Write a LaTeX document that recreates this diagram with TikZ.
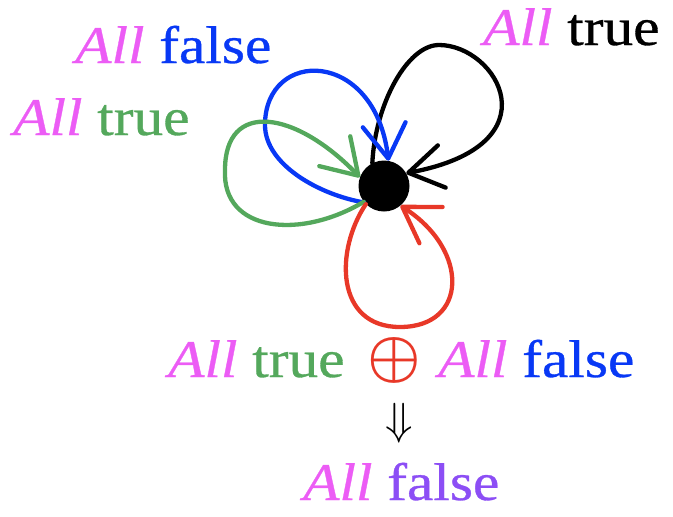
\RequirePackage{fix-cm}
\documentclass[tikz,border=0pt]{standalone}
\usepackage{bm}
\usepackage{fontspec}
\setmainfont[FakeStretch=1.12,FakeBold=0.6]{Liberation Serif}
\usetikzlibrary{arrows.meta}
\definecolor{mag}{RGB}{236,92,245}
\definecolor{blu}{RGB}{8,56,245}
\definecolor{grn}{RGB}{84,168,92}
\definecolor{rd}{RGB}{232,56,40}
\definecolor{pur}{RGB}{140,78,245}
\begin{document}
\begin{tikzpicture}[x=1pt,y=-1pt,
  loopline/.style={line width=4.3pt, line cap=round,
    -{Straight Barb[length=34pt,width=43pt,round]}},
  lbl/.style={anchor=base west, inner sep=0pt, font=\fontsize{53}{60}\selectfont},
  dotnode/.style={circle, fill=black, inner sep=0pt, minimum size=51pt}]
\useasboundingbox (0,0) rectangle (673,517);
\node[dotnode] (v) at (384,186) {};
% loops
\draw[loopline, black] (v.117) .. controls (375,105) and (407,45) .. (439,45)
  .. controls (497,45) and (557,145) .. (v.30);
\draw[loopline, blu] (v.220) .. controls (320,195) and (265,165) .. (265,125)
  .. controls (265,48) and (375,48) .. (v.80);
\draw[loopline, grn] (v.218) .. controls (300,240) and (222,232) .. (225,170)
  .. controls (225,100) and (295,110) .. (v.160);
\draw[loopline, rd] (v.225) .. controls (335,250) and (335,327) .. (400,327)
  .. controls (468,327) and (470,250) .. (v.310);
% labels
\node[lbl] (tl) at (75,63) {\textcolor{mag}{\itshape All} \textcolor{blu}{false}};
\node[lbl] (tr) at (483,45) {\textcolor{mag}{\itshape All} \textcolor{black}{true}};
\node[lbl] (gl) at (13,135) {\textcolor{mag}{\itshape All} \textcolor{grn}{true}};
\node[lbl] (m1) at (168,377) {\textcolor{mag}{\itshape All} \textcolor{grn}{true}};
\node[inner sep=0pt, text=rd, font=\fontsize{60}{64}\selectfont] (op) at (394,360) {$\bm{\oplus}$};
\node[lbl] (m2) at (438,377) {\textcolor{mag}{\itshape All} \textcolor{blu}{false}};
\node[inner sep=0pt, font=\fontsize{45}{50}\selectfont] (imp) at (399,423) {$\Downarrow$};
\node[lbl] (bt) at (303,500) {\textcolor{mag}{\itshape All} \textcolor{pur}{false}};
\end{tikzpicture}
\end{document}
